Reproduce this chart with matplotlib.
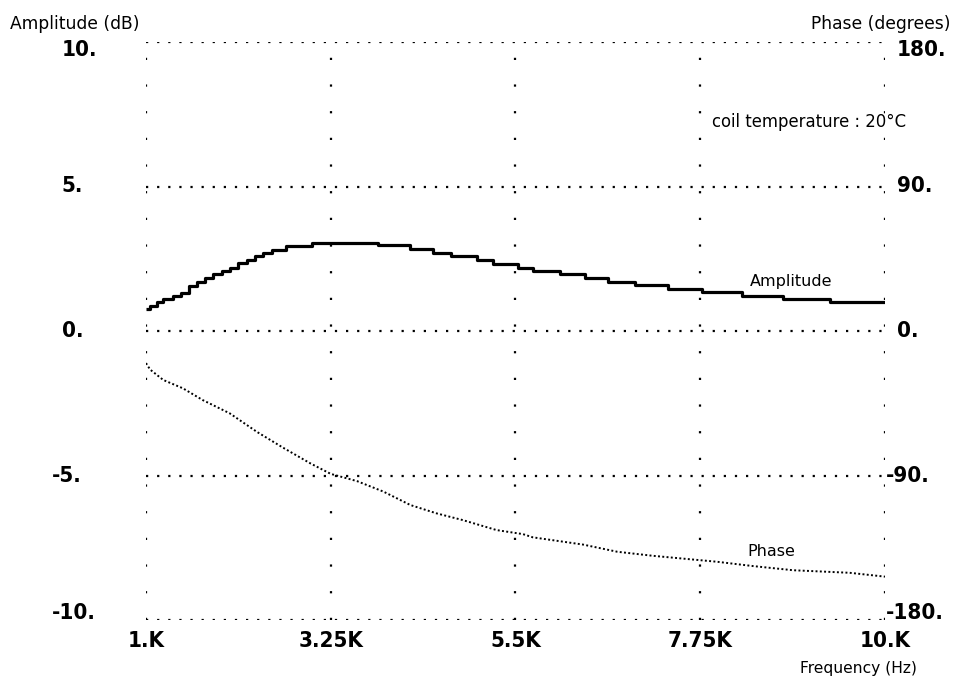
import numpy as np
import matplotlib
matplotlib.use("Agg")
import matplotlib.pyplot as plt
from matplotlib import font_manager as fm

# amplitude (dB), frequency in kHz
amp_freq = [1.00, 1.05, 1.13, 1.21, 1.33, 1.43, 1.52, 1.62, 1.72, 1.82, 1.92,
            2.02, 2.12, 2.23, 2.33, 2.43, 2.53, 2.71, 3.02, 3.83, 4.22, 4.50,
            4.72, 5.03, 5.23, 5.53, 5.71, 6.04, 6.35, 6.63, 6.96, 7.36, 7.77,
            8.26, 8.76, 9.33, 10.0]
amp_db = [0.75, 0.87, 0.99, 1.10, 1.21, 1.33, 1.54, 1.71, 1.83, 1.98, 2.08,
          2.19, 2.35, 2.46, 2.58, 2.69, 2.81, 2.95, 3.06, 2.96, 2.83, 2.69,
          2.58, 2.44, 2.32, 2.19, 2.08, 1.97, 1.83, 1.71, 1.59, 1.46, 1.34,
          1.21, 1.10, 0.99, 0.99]

# phase (degrees)
phase_freq = [1.00, 1.05, 1.21, 1.45, 1.69, 2.02, 2.35, 2.67, 3.00, 3.25,
              3.57, 3.89, 4.22, 4.54, 4.86, 5.27, 5.59, 5.71, 6.32, 6.74,
              7.17, 7.59, 7.95, 8.39, 8.88, 9.57, 10.0]
phase_deg = [-20, -24, -30.5, -35.7, -43, -51.3, -62.8, -72.7, -82.4, -89,
             -93.5, -100, -108.4, -113.6, -117.8, -124, -126.5, -128.5, -133,
             -137.5, -140, -142, -143.7, -146.4, -149, -150.6, -153]

x_ticks = [1.0, 3.25, 5.5, 7.75, 10.0]
x_labels = ["1.K", "3.25K", "5.5K", "7.75K", "10.K"]
amp_ticks = [10, 5, 0, -5, -10]
amp_labels = ["10.", "5.", "0.", "-5.", "-10."]
phase_ticks = [180, 90, 0, -90, -180]
phase_labels = ["180.", "90.", "0.", "-90.", "-180."]


def narrow_bold():
    # look for a condensed / narrow bold face, otherwise fall back to mono bold
    for f in fm.fontManager.ttflist:
        s = (f.name + " " + f.fname).lower()
        if ("condensed" in s or "narrow" in s) and "bold" in s and "italic" not in s and "oblique" not in s:
            return fm.FontProperties(fname=f.fname), True
    return fm.FontProperties(family="DejaVu Sans Mono", weight="bold"), False


tick_font, is_narrow = narrow_bold()
tick_size = 16 if is_narrow else 14

fig = plt.figure(figsize=(9.55, 6.82), dpi=100)
ax = fig.add_axes([146 / 955, 1 - 620 / 682, 739 / 955, 578 / 682])
ax2 = ax.twinx()

ax.set_xlim(1, 10)
ax.set_ylim(-10, 10)
ax2.set_ylim(-180, 180)
ax.set_xticks(x_ticks)
ax.set_yticks(amp_ticks)
ax2.set_yticks([])
for a in (ax, ax2):
    a.tick_params(length=0, labelbottom=False, labelleft=False, labelright=False)
    for sp in a.spines.values():
        sp.set_visible(False)

ax.yaxis.grid(True, color="black", linewidth=1.6, linestyle=(0, (1, 4)))
ax.xaxis.grid(True, color="black", linewidth=1.6, linestyle=(0, (1, 11)))

ax.plot(amp_freq, amp_db, color="black", linewidth=2.3, drawstyle="steps-post",
        solid_capstyle="butt")
ax2.plot(phase_freq, phase_deg, color="black", linewidth=1.4, linestyle=(0, (1, 1.2)))

# tick labels as text
ytr = ax.get_yaxis_transform()
shift = {0: -8, len(amp_ticks) - 1: 7}
for i, (v, lab) in enumerate(zip(amp_ticks, amp_labels)):
    xpos = -0.127 if v < 0 else -0.114
    ax.annotate(lab, xy=(xpos, v), xycoords=ytr, xytext=(0, shift.get(i, 0) * 0.72),
                textcoords="offset points", ha="left", va="center",
                fontproperties=tick_font, fontsize=tick_size)

ytr2 = ax2.get_yaxis_transform()
for i, (v, lab) in enumerate(zip(phase_ticks, phase_labels)):
    xpos = 1.001 if v < 0 else 1.016
    ax2.annotate(lab, xy=(xpos, v), xycoords=ytr2, xytext=(0, shift.get(i, 0) * 0.72),
                 textcoords="offset points", ha="left", va="center",
                 fontproperties=tick_font, fontsize=tick_size)

xtr = ax.get_xaxis_transform()
for v, lab in zip(x_ticks, x_labels):
    ax.text(v, -0.036, lab, transform=xtr, ha="center", va="center",
            fontproperties=tick_font, fontsize=tick_size)

fig.text(10 / 955, 1 - 24 / 682, "Amplitude (dB)", ha="left", va="center", fontsize=12.3)
fig.text(950 / 955, 1 - 24 / 682, "Phase (degrees)", ha="right", va="center", fontsize=12.3)
fig.text(917 / 955, 1 - 668 / 682, "Frequency (Hz)", ha="right", va="center", fontsize=11.2)

ax.text(7.89, 7.24, "coil temperature : 20°C", ha="left", va="center", fontsize=11.9)
ax.text(8.36, 1.70, "Amplitude", ha="left", va="center", fontsize=11.5)
ax2.text(8.33, -137.5, "Phase", ha="left", va="center", fontsize=11.5)

fig.savefig("out.png", dpi=100)
